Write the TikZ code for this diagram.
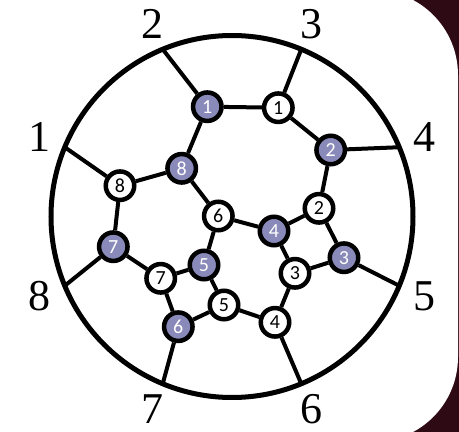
\documentclass[tikz,border=0pt]{standalone}
\usepackage{fontspec}
\setmainfont{Liberation Serif}
\newfontfamily\calib{Carlito}
\usepackage{tikz}
\usetikzlibrary{calc}
\definecolor{lav}{RGB}{138,138,186}
\definecolor{frame}{RGB}{45,10,20}
\tikzset{vx/.style={circle, draw=black, line width=4.5pt, minimum size=28.5pt, inner sep=0pt, font=\calib\fontsize{20}{20}\selectfont},
 dark/.style={vx, fill=lav, text=white},
 light/.style={vx, fill=white, text=black},
 edge/.style={line width=4pt}}

\begin{document}
\begin{tikzpicture}[x=1pt,y=1pt]
\useasboundingbox (0,0) rectangle (459,432);
\clip (0,0) rectangle (459,432);
\fill[frame] (0,0) rectangle (459,432);
\fill[white, rounded corners=85pt] (-100,-10) rectangle (458,442);
\coordinate (o) at (232,215.5);
\draw[line width=5pt] (o) circle[radius=181];
\foreach \k [evaluate=\k as \a using 202.5-45*\k] in {1,...,8} {
 \coordinate (s\k) at ($(o)+(\a:181)$);
 \node[font=\fontsize{44}{44}\selectfont] (l\k) at ($(o)+(\a:208)$) {\k};
}
\node[dark] (f1) at (207.3,325.3) {1};
\node[dark] (f2) at (330.7,282) {2};
\node[dark] (f3) at (344,174.3) {3};
\node[dark] (f4) at (274,201) {4};
\node[dark] (f5) at (204,167) {5};
\node[dark] (f6) at (178.3,105.3) {6};
\node[dark] (f7) at (113.3,185.3) {7};
\node[dark] (f8) at (181.7,263.7) {8};
\node[light] (w1) at (278.3,324.3) {1};
\node[light] (w2) at (319,223.7) {2};
\node[light] (w3) at (295,158.7) {3};
\node[light] (w4) at (275,109.7) {4};
\node[light] (w5) at (224,127) {5};
\node[light] (w6) at (218.3,216) {6};
\node[light] (w7) at (160.7,153.7) {7};
\node[light] (w8) at (120,246.3) {8};
\foreach \a/\b in {s2/f1, f1/w1, s3/w1, w1/f2, f2/s4, f2/w2, w2/f4, w2/f3, f3/s5, f3/w3,
 w3/f4, w3/w4, w4/s6, w4/w5, w5/f5, w5/f6, f6/s7, f6/w7, w7/f5, w7/f7,
 f7/s8, f7/w8, w8/s1, w8/f8, f8/f1, f8/w6, w6/f4, w6/f5}
 \draw[edge] (\a) -- (\b);
\end{tikzpicture}
\end{document}
